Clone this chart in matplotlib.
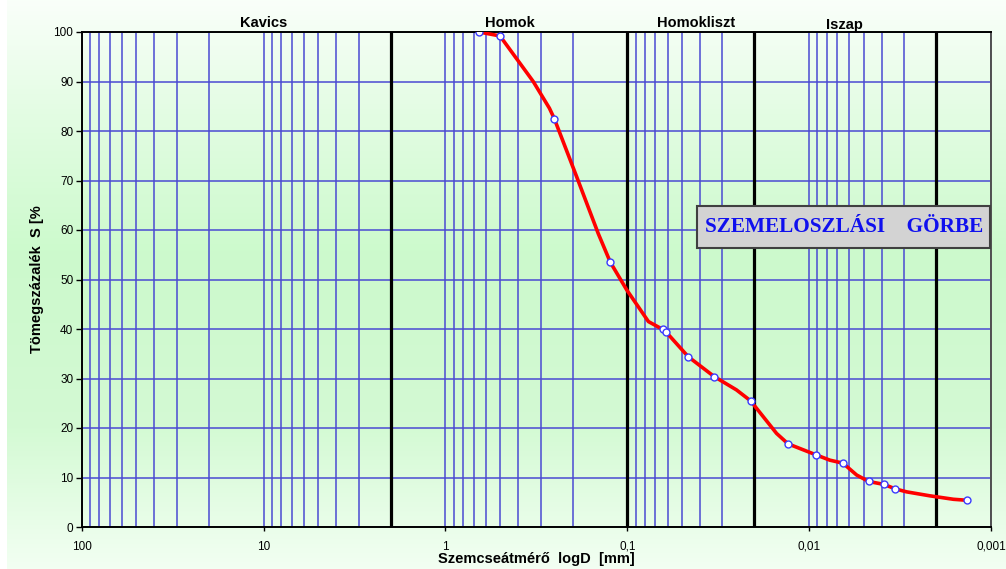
"""
Szemeloszlasi gorbe - reprodukcio matplotlib-bel
"""

import numpy as np
import matplotlib
matplotlib.use("Agg")
import matplotlib.pyplot as plt
from matplotlib.ticker import FixedLocator, LogLocator, NullFormatter
from matplotlib.colors import LinearSegmentedColormap
from matplotlib.patches import Rectangle

# meresi pontok (markerek)
d_meres = [0.652, 0.501, 0.252, 0.124, 0.0637, 0.0612, 0.0462, 0.0333, 0.0210,
           0.01306, 0.0092, 0.00652, 0.00471, 0.00387, 0.00336, 0.00136]
s_meres = [100, 99.2, 82.5, 53.5, 39.9, 39.4, 34.4, 30.4, 25.5,
           16.8, 14.6, 12.9, 9.2, 8.6, 7.7, 5.4]

# a vonal alakja (a kepről leolvasott koztes pontokkal)
d_gorbe = [0.652, 0.501, 0.329, 0.268, 0.252, 0.190, 0.1445, 0.124, 0.1007,
           0.0765, 0.0637, 0.0612, 0.0462, 0.0333, 0.0251, 0.0210, 0.0151,
           0.01306, 0.0092, 0.00769, 0.00652, 0.00548, 0.00471, 0.00387,
           0.00336, 0.00291, 0.00217, 0.00161, 0.00136]
s_gorbe = [100, 99.2, 90.0, 84.6, 82.5, 70.8, 59.3, 53.5, 47.9,
           41.5, 39.9, 39.4, 34.4, 30.4, 27.7, 25.5, 18.9,
           16.8, 14.6, 13.5, 12.9, 10.5, 9.2, 8.6,
           7.7, 7.1, 6.3, 5.6, 5.4]

hatarok = [2, 0.1, 0.02, 0.002]
szakaszok = ["Kavics", "Homok", "Homokliszt", "Iszap"]
szakasz_x = [10, 0.4416, 0.0421, 0.0064]
szakasz_y = [27, 27, 27, 29]  # alapvonal, pixel felulrol

x_tickek = [100, 10, 1, 0.1, 0.01, 0.001]
x_cimkek = ["100", "10", "1", "0,1", "0,01", "0,001"]
y_tickek = list(range(0, 101, 10))

W, H = 1006, 569
fig = plt.figure(figsize=(W / 100, H / 100), dpi=100)

# hatter szinatmenet
bg = fig.add_axes([7 / W, 0, 1 - 7 / W, 1], zorder=-10)
cmap = LinearSegmentedColormap.from_list("zold", [
    (0.0, (0.98, 1.0, 0.98)),
    (0.2, (0.89, 0.99, 0.89)),
    (0.45, (0.80, 0.98, 0.80)),
    (0.75, (0.83, 0.98, 0.83)),
    (1.0, (0.95, 1.0, 0.95)),
])
grad = np.linspace(0, 1, 256).reshape(-1, 1)
bg.imshow(grad, aspect="auto", cmap=cmap, extent=[0, 1, 0, 1])
bg.axis("off")

x0, x1 = 81.7, 991
y0, y1 = 527, 32
ax = fig.add_axes([x0 / W, (H - y0) / H, (x1 - x0) / W, (y0 - y1) / H])
ax.set_facecolor("none")

ax.set_xscale("log")
ax.set_xlim(100, 0.001)
ax.set_ylim(0, 100)

ax.xaxis.set_major_locator(FixedLocator(x_tickek))
ax.set_xticklabels(x_cimkek)
ax.xaxis.set_minor_locator(LogLocator(base=10, subs=np.arange(2, 10)))
ax.xaxis.set_minor_formatter(NullFormatter())
ax.set_yticks(y_tickek)

kek = "#4a4ad2"
ax.grid(True, which="both", axis="x", color=kek, lw=1.1)
ax.grid(True, which="major", axis="y", color=kek, lw=1.1)
ax.set_axisbelow(True)

for h in hatarok:
    ax.axvline(h, color="black", lw=2.3, zorder=2)

ax.tick_params(axis="x", which="minor", length=0)
ax.tick_params(axis="x", which="major", length=3, width=1, pad=7,
               labelsize=8.5)
ax.tick_params(axis="y", length=4, width=1, pad=2, labelsize=8.5)
for lab in ax.get_xticklabels() + ax.get_yticklabels():
    lab.set_family(["Liberation Sans Narrow", "Liberation Sans"])

for s in ["left", "bottom", "top"]:
    ax.spines[s].set_color("black")
    ax.spines[s].set_linewidth(1.4)
ax.spines["right"].set_color("#505050")
ax.spines["right"].set_linewidth(1.4)

ax.plot(d_gorbe, s_gorbe, color="#ff0000", lw=2.6, zorder=4,
        solid_joinstyle="round")
ax.plot(d_meres, s_meres, ls="none", marker="o", ms=5, mfc="white",
        mec="#3a3aff", mew=1.0, zorder=5)

ax.set_xlabel("Szemcseátmérő  logD  [mm]", fontsize=10.5, fontweight="bold",
              family="Liberation Sans", labelpad=-1)
ax.set_ylabel("Tömegszázalék  S [%", fontsize=10.5, fontweight="bold",
              family="Liberation Sans", labelpad=7)

trans = ax.get_xaxis_transform()
for nev, xs, ys in zip(szakaszok, szakasz_x, szakasz_y):
    ax.text(xs, (y0 - ys) / (y0 - y1), nev, transform=trans, ha="center",
            va="baseline", fontsize=10.5, fontweight="bold",
            family="Liberation Sans")

# felirat doboz
fig.patches.append(Rectangle((697 / W, (H - 248) / H), 293 / W, 42 / H,
                             transform=fig.transFigure, facecolor="#d3d3d3",
                             edgecolor="#404040", lw=1.5, zorder=6))
fig.text(844 / W, (H - 227) / H, "SZEMELOSZLÁSI    GÖRBE", ha="center",
         va="center", fontsize=15.3, fontweight="bold", color="#1010ee",
         family="Liberation Serif", zorder=7)

fig.savefig("out.png", dpi=100)
